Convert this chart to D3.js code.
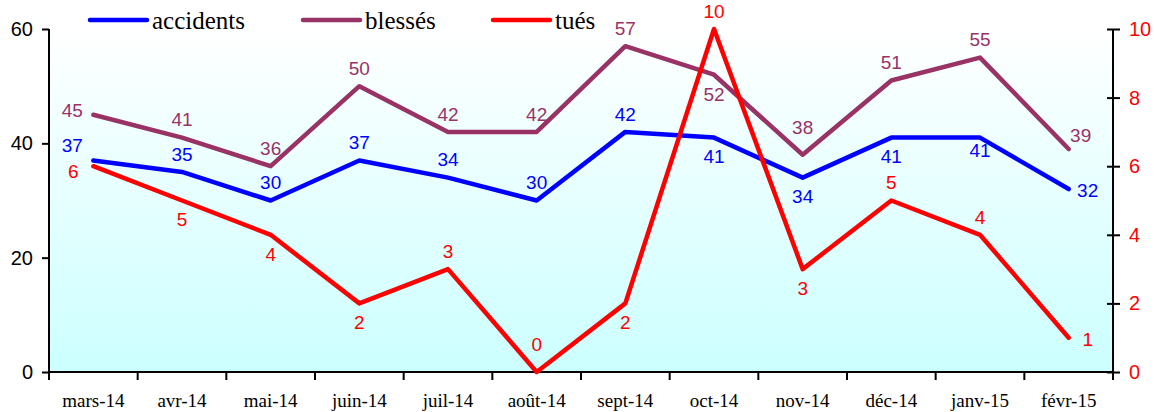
<!DOCTYPE html>
<html><head><meta charset="utf-8">
<script src="https://cdn.jsdelivr.net/npm/d3@7/dist/d3.min.js"></script>
<style>html,body{margin:0;padding:0;background:#fff;}svg{display:block;}</style>
</head><body>
<svg id="chart" width="1154" height="412"></svg>
<script>
const months = ["mars-14","avr-14","mai-14","juin-14","juil-14","août-14","sept-14","oct-14","nov-14","déc-14","janv-15","févr-15"];
const accidents = [37,35,30,37,34,30,42,41,34,41,41,32];
const blesses   = [45,41,36,50,42,42,57,52,38,51,55,39];
const tues      = [6,5,4,2,3,0,2,10,3,5,4,1];
const leftTicks = [0,20,40,60];
const rightTicks = [0,2,4,6,8,10];
// label placement codes per point
const accPlace = ["tl","t","t","t","t","t","t","b","b","b","bs","r"];
const blePlace = ["l","t","t","t","t","t","t","b","tt","t","t","tr"];
const tuePlace = ["lb","b","b","b","t","tt","b","t","b","t","t","r"];

const W = 1154, H = 412;
const m = {left:49, right:41, top:29, bottom:40};
const svg = d3.select("#chart");
const x = d3.scaleBand().domain(months).range([m.left, W - m.right]);
const yL = d3.scaleLinear().domain([0,60]).range([H - m.bottom, m.top]);
const yR = d3.scaleLinear().domain([0,10]).range([H - m.bottom, m.top]);
const cx = d => x(d) + x.bandwidth()/2;

const defs = svg.append("defs");
const grad = defs.append("linearGradient").attr("id","bg").attr("x1",0).attr("y1",0).attr("x2",0).attr("y2",1);
grad.append("stop").attr("offset","0%").attr("stop-color","#ffffff");
grad.append("stop").attr("offset","100%").attr("stop-color","#ccffff");
svg.append("rect").attr("x",m.left).attr("y",m.top).attr("width",W-m.left-m.right).attr("height",H-m.top-m.bottom).attr("fill","url(#bg)");

// axes
const axL = svg.append("g").attr("transform",`translate(${m.left},0)`)
  .call(d3.axisLeft(yL).tickValues(leftTicks).tickSize(7).tickPadding(9));
const axR = svg.append("g").attr("transform",`translate(${W-m.right},0)`)
  .call(d3.axisRight(yR).tickValues(rightTicks).tickSize(7).tickPadding(9));
axR.selectAll(".tick line").attr("x1",-6);
const axB = svg.append("g").attr("transform",`translate(0,${H-m.bottom})`)
  .call(d3.axisBottom(x).tickSize(0).tickPadding(22));
[axL,axR,axB].forEach(a=>{
  a.select(".domain").attr("stroke","#000").attr("stroke-width",2);
  a.selectAll(".tick line").attr("stroke","#000").attr("stroke-width",2);
});
axL.selectAll("text").attr("font-family","Liberation Sans, Arial, sans-serif").attr("font-size",20).attr("fill","#000");
axR.selectAll("text").attr("font-family","Liberation Sans, Arial, sans-serif").attr("font-size",20).attr("fill","#ff0000");
axB.selectAll("text").attr("font-family","Liberation Serif, Times New Roman, serif").attr("font-size",19).attr("fill","#000");
// bottom boundary ticks
const bounds = months.map(d=>x(d)).concat([W-m.right]);
axB.selectAll(".bt").data(bounds).join("line").attr("class","bt")
  .attr("x1",d=>d).attr("x2",d=>d).attr("y1",0).attr("y2",8).attr("stroke","#000").attr("stroke-width",2);
axB.select(".domain").attr("d",`M${m.left},0H${W-m.right}`);
axL.select(".domain").attr("d",`M0,${H-m.bottom}V${m.top}`);
axR.select(".domain").attr("d",`M0,${H-m.bottom}V${m.top}`);

const series = [
  {vals:accidents, y:yL, color:"#0000ff", place:accPlace},
  {vals:blesses, y:yL, color:"#993366", place:blePlace},
  {vals:tues, y:yR, color:"#ff0000", place:tuePlace}
];
const offs = {t:[0,-18], tt:[0,-28], b:[0,19], bs:[0,13], l:[-21,-5], lb:[-20,5], tl:[-21,-15], r:[19,1], tr:[12,-14]};
series.forEach(s=>{
  const line = d3.line().x((d,i)=>cx(months[i])).y(d=>s.y(d));
  svg.append("path").datum(s.vals).attr("d",line).attr("fill","none")
    .attr("stroke",s.color).attr("stroke-width",4.5).attr("stroke-linejoin","round").attr("stroke-linecap","round");
});
series.forEach(s=>{
  svg.append("g").selectAll("text").data(s.vals).join("text")
    .attr("x",(d,i)=>cx(months[i]) + offs[s.place[i]][0])
    .attr("y",(d,i)=>s.y(d) + offs[s.place[i]][1])
    .attr("dy","0.36em").attr("text-anchor","middle")
    .attr("font-family","Liberation Sans, Arial, sans-serif").attr("font-size",19)
    .attr("fill",s.color).text(d=>d);
});

// legend
const legend = [
  {name:"accidents", color:"#0000ff", x:90},
  {name:"blessés", color:"#993366", x:303},
  {name:"tués", color:"#ff0000", x:493}
];
const lg = svg.append("g");
legend.forEach(l=>{
  lg.append("line").attr("x1",l.x).attr("x2",l.x+57).attr("y1",20).attr("y2",20)
    .attr("stroke",l.color).attr("stroke-width",4.5).attr("stroke-linecap","round");
  lg.append("text").attr("x",l.x+62).attr("y",29).text(l.name)
    .attr("font-family","Liberation Serif, Times New Roman, serif").attr("font-size",25).attr("fill","#000");
});
</script>
</body></html>
